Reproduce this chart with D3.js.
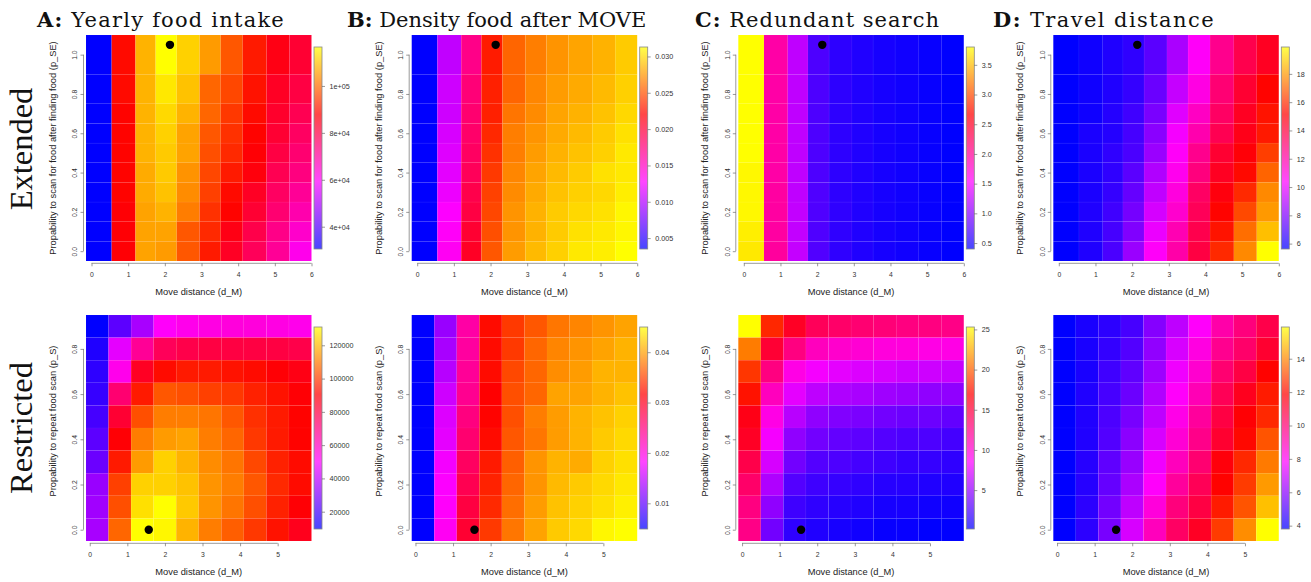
<!DOCTYPE html>
<html>
<head>
<meta charset="utf-8">
<script src="https://cdn.jsdelivr.net/npm/d3@7"></script>
<style>
  body { margin: 0; background: #fff; }
  svg { display: block; }
</style>
</head>
<body>
<div id="chartdiv"></div>
<script>
// ---- data ----

// move distance (d_M) at the centre of each column
var dmExt = [0.2, 0.9, 1.5, 2.0, 2.65, 3.25, 3.8, 4.45, 5.1, 5.7];
var dmRes = [0.2, 0.8, 1.4, 2.0, 2.6, 3.2, 3.8, 4.4, 5.0, 5.6];
// probability rows, listed from the top row down
var pSE = [1.0, 0.8, 0.7, 0.6, 0.5, 0.4, 0.3, 0.2, 0.1, 0.0];
var pS  = [0.9, 0.8, 0.7, 0.6, 0.5, 0.4, 0.3, 0.2, 0.1, 0.0];

// black dot (default parameter set)
var dotExt = [2.14, 1.05];
var dotRes = [1.57, 0.0];

var xTicksExt = [0, 1, 2, 3, 4, 5, 6];
var xTicksRes = [0, 1, 2, 3, 4, 5];
var yTicksExt = [0, 0.2, 0.4, 0.6, 0.8, 1.0];
var yTicksRes = [0, 0.2, 0.4, 0.6, 0.8];

// every inner array is one column (one d_M), values from the top row down
var intakeExt = [
  [30500, 30500, 30500, 30500, 30500, 30500, 30500, 30500, 30500, 30500],
  [89000, 89000, 88200, 88200, 88200, 88200, 88200, 87300, 87300, 87300],
  [108000, 108000, 108000, 108000, 108000, 107100, 107100, 106300, 106300, 106300],
  [116600, 114000, 112300, 111400, 110600, 110600, 109700, 108000, 106300, 105400],
  [111400, 109700, 108000, 106300, 106300, 104500, 103700, 102000, 97700, 97700],
  [105400, 99400, 99400, 97700, 96800, 95900, 95100, 93400, 92500, 90800],
  [97700, 95900, 94200, 93400, 92500, 90800, 89000, 88200, 85600, 83900],
  [90800, 89900, 89000, 88200, 87300, 86500, 83900, 82200, 79600, 77900],
  [85600, 83900, 83000, 82200, 80400, 78700, 77000, 75300, 72700, 71000],
  [82200, 80400, 78700, 77000, 75300, 73600, 71000, 68400, 65000, 61500]
];
var intakeRes = [
  [9600, 14500, 16900, 18100, 20500, 24200, 26600, 33900, 35100, 36300],
  [24200, 46000, 53300, 72700, 82400, 89700, 94600, 100700, 103100, 106700],
  [36300, 66700, 84900, 94600, 103100, 110400, 115200, 123700, 126100, 131000],
  [50900, 76400, 92200, 104300, 110400, 115200, 123700, 123700, 131000, 129800],
  [53300, 78800, 94600, 103100, 110400, 116400, 118900, 121300, 122500, 118900],
  [54500, 80000, 94600, 100700, 109100, 110400, 112800, 114000, 114000, 110400],
  [55700, 80000, 93400, 99400, 104300, 106700, 109100, 110400, 109100, 105500],
  [55700, 80000, 92200, 95800, 98200, 99400, 101900, 104300, 103100, 99400],
  [54500, 80000, 89700, 93400, 94600, 94600, 95800, 97000, 95800, 93400],
  [53300, 78800, 87300, 89700, 90900, 90900, 92200, 92200, 89700, 86100]
];
var densExt = [
  [0.0035, 0.0035, 0.0035, 0.0035, 0.0035, 0.0035, 0.0035, 0.0035, 0.0035, 0.0035],
  [0.0105, 0.0110, 0.0110, 0.0113, 0.0116, 0.0118, 0.0121, 0.0127, 0.0130, 0.0132],
  [0.0171, 0.0177, 0.0180, 0.0182, 0.0185, 0.0188, 0.0193, 0.0196, 0.0202, 0.0207],
  [0.0230, 0.0232, 0.0232, 0.0235, 0.0238, 0.0241, 0.0244, 0.0246, 0.0249, 0.0252],
  [0.0257, 0.0257, 0.0263, 0.0266, 0.0266, 0.0269, 0.0271, 0.0274, 0.0274, 0.0277],
  [0.0266, 0.0269, 0.0271, 0.0274, 0.0277, 0.0280, 0.0282, 0.0285, 0.0285, 0.0288],
  [0.0274, 0.0277, 0.0280, 0.0282, 0.0285, 0.0288, 0.0291, 0.0294, 0.0294, 0.0296],
  [0.0280, 0.0282, 0.0285, 0.0288, 0.0291, 0.0294, 0.0296, 0.0299, 0.0302, 0.0305],
  [0.0285, 0.0288, 0.0291, 0.0294, 0.0296, 0.0302, 0.0299, 0.0302, 0.0305, 0.0307],
  [0.0294, 0.0296, 0.0299, 0.0302, 0.0305, 0.0305, 0.0307, 0.0310, 0.0310, 0.0313]
];
var densRes = [
  [0.0049, 0.0049, 0.0049, 0.0049, 0.0049, 0.0049, 0.0049, 0.0049, 0.0049, 0.0049],
  [0.0129, 0.0137, 0.0145, 0.0157, 0.0165, 0.0169, 0.0177, 0.0181, 0.0185, 0.0189],
  [0.0230, 0.0233, 0.0237, 0.0241, 0.0250, 0.0258, 0.0266, 0.0274, 0.0282, 0.0290],
  [0.0322, 0.0322, 0.0322, 0.0316, 0.0318, 0.0322, 0.0330, 0.0334, 0.0338, 0.0346],
  [0.0346, 0.0346, 0.0354, 0.0358, 0.0358, 0.0362, 0.0366, 0.0370, 0.0374, 0.0378],
  [0.0362, 0.0370, 0.0370, 0.0370, 0.0382, 0.0378, 0.0394, 0.0394, 0.0398, 0.0402],
  [0.0378, 0.0386, 0.0390, 0.0402, 0.0398, 0.0398, 0.0410, 0.0414, 0.0418, 0.0422],
  [0.0386, 0.0394, 0.0398, 0.0402, 0.0410, 0.0410, 0.0406, 0.0422, 0.0426, 0.0430],
  [0.0394, 0.0402, 0.0410, 0.0410, 0.0418, 0.0422, 0.0426, 0.0430, 0.0434, 0.0446],
  [0.0402, 0.0410, 0.0410, 0.0418, 0.0426, 0.0430, 0.0434, 0.0438, 0.0442, 0.0450]
];
var redunExt = [
  [3.80, 3.80, 3.80, 3.80, 3.80, 3.77, 3.77, 3.77, 3.73, 3.70],
  [1.93, 1.93, 1.93, 1.93, 1.93, 1.93, 1.95, 1.95, 1.95, 1.97],
  [1.25, 1.25, 1.25, 1.25, 1.25, 1.25, 1.25, 1.26, 1.26, 1.27],
  [0.74, 0.74, 0.74, 0.74, 0.74, 0.74, 0.75, 0.75, 0.75, 0.76],
  [0.60, 0.60, 0.60, 0.60, 0.60, 0.60, 0.60, 0.61, 0.61, 0.61],
  [0.54, 0.54, 0.54, 0.54, 0.54, 0.54, 0.54, 0.54, 0.54, 0.54],
  [0.50, 0.50, 0.50, 0.50, 0.50, 0.50, 0.50, 0.50, 0.50, 0.50],
  [0.47, 0.47, 0.47, 0.47, 0.47, 0.47, 0.47, 0.47, 0.47, 0.47],
  [0.43, 0.43, 0.43, 0.43, 0.43, 0.43, 0.43, 0.43, 0.43, 0.43],
  [0.40, 0.40, 0.40, 0.40, 0.40, 0.40, 0.40, 0.40, 0.40, 0.40]
];
var redunRes = [
  [25.3, 21.0, 18.7, 17.5, 16.2, 15.7, 14.5, 13.5, 12.7, 12.5],
  [18.2, 15.2, 12.7, 10.7, 9.4, 8.2, 7.2, 5.9, 4.9, 3.9],
  [15.7, 12.7, 9.4, 7.7, 6.2, 4.9, 3.9, 2.9, 2.2, 1.7],
  [14.0, 10.7, 8.2, 6.4, 4.9, 3.9, 2.9, 2.2, 1.7, 1.2],
  [13.5, 10.2, 7.7, 5.9, 4.4, 3.4, 2.7, 1.9, 1.4, 0.9],
  [13.2, 10.0, 7.4, 5.7, 4.2, 3.2, 2.4, 1.7, 1.2, 0.7],
  [13.0, 9.7, 7.2, 5.4, 3.9, 2.9, 2.2, 1.4, 0.9, 0.4],
  [12.7, 9.7, 6.9, 5.2, 3.7, 2.7, 1.9, 1.4, 0.9, 0.4],
  [12.7, 9.4, 6.9, 4.9, 3.7, 2.7, 1.9, 1.2, 0.7, 0.16],
  [12.5, 9.4, 6.7, 4.9, 3.4, 2.4, 1.7, 1.2, 0.7, 0.16]
];
var travelExt = [
  [5.62, 5.62, 5.62, 5.62, 5.62, 5.62, 5.62, 5.62, 5.62, 5.62],
  [5.9, 5.9, 5.9, 6.1, 6.1, 6.1, 6.1, 6.2, 6.2, 6.2],
  [6.2, 6.2, 6.3, 6.3, 6.5, 6.5, 6.6, 6.8, 6.9, 7.0],
  [6.5, 6.6, 6.8, 6.9, 7.0, 7.3, 7.5, 7.8, 8.0, 8.5],
  [7.3, 7.6, 7.9, 8.2, 8.5, 8.9, 9.2, 9.6, 10.0, 10.5],
  [8.8, 9.3, 9.8, 10.2, 10.5, 10.7, 11.0, 11.3, 11.8, 12.0],
  [10.5, 10.9, 11.5, 11.9, 12.5, 12.8, 13.3, 13.5, 13.7, 13.9],
  [12.5, 13.0, 13.3, 13.6, 14.2, 14.5, 14.9, 15.2, 15.5, 15.9],
  [13.7, 14.2, 14.5, 14.7, 15.0, 15.3, 15.9, 16.5, 17.2, 17.7],
  [14.5, 15.2, 15.5, 15.6, 16.3, 17.0, 17.7, 18.0, 18.7, 19.9]
];
var travelRes = [
  [3.8, 3.8, 3.8, 3.8, 3.8, 3.8, 3.8, 3.8, 3.8, 3.8],
  [4.2, 4.2, 4.2, 4.3, 4.3, 4.3, 4.4, 4.4, 4.5, 4.5],
  [4.5, 4.6, 4.8, 4.9, 5.0, 5.1, 5.3, 5.4, 5.6, 5.7],
  [4.9, 5.1, 5.3, 5.5, 5.7, 6.0, 6.2, 6.5, 6.8, 7.2],
  [5.9, 6.1, 6.3, 6.6, 6.8, 7.2, 7.6, 7.9, 8.4, 8.9],
  [6.8, 7.2, 7.6, 7.9, 8.2, 8.5, 8.9, 9.4, 9.9, 10.3],
  [7.9, 8.3, 8.6, 9.0, 9.4, 9.7, 10.1, 10.5, 10.8, 11.3],
  [9.2, 9.6, 10.1, 10.5, 10.8, 11.1, 11.7, 11.9, 12.3, 12.8],
  [9.9, 10.2, 10.8, 11.4, 11.8, 12.0, 12.5, 12.8, 13.2, 14.1],
  [10.7, 11.1, 11.9, 12.3, 12.5, 13.2, 13.8, 14.3, 14.9, 15.9]
];

// colour bar tick labels
var barTicksIntakeExt = [40000, 60000, 80000, 100000];
var barTicksIntakeRes = [20000, 40000, 60000, 80000, 100000, 120000];
var barTicksDensExt = [0.005, 0.010, 0.015, 0.020, 0.025, 0.030];
var barTicksDensRes = [0.01, 0.02, 0.03, 0.04];
var barTicksRedunExt = [0.5, 1.0, 1.5, 2.0, 2.5, 3.0, 3.5];
var barTicksRedunRes = [5, 10, 15, 20, 25];
var barTicksTravelExt = [6, 8, 10, 12, 14, 16, 18];
var barTicksTravelRes = [4, 6, 8, 10, 12, 14];

var titleLetters = ["A:", "B:", "C:", "D:"];
var titleTexts = ["Yearly food intake", "Density food after MOVE", "Redundant search", "Travel distance"];

// ---- layout ----
var W = 225.5, H = 226;
var plotLeft = [86, 411.7, 738.3, 1053.3];
var plotTop = [35, 315];
var titleLeft = [37, 347, 695, 993];
var titleWidth = [248, 281, 245, 222];
var palette = ["#0000ff", "#ff00ff", "#ff0000", "#ffff00"];
var sansFont = "'Liberation Sans', Arial, sans-serif";
var serifFont = "'Liberation Serif', 'Times New Roman', serif";

// R prints 1e+05 rather than 1e+5
function sciFmt(v) {
  return d3.format(".0e")(v).replace(/e([+-])(\d)$/, "e$10$2");
}

var rows = [
  { name: "Extended", xs: dmExt, ys: pSE, xTicks: xTicksExt, yTicks: yTicksExt, dot: dotExt,
    ylab: "Propability to scan for food after finding food (p_SE)", ylabShift: 0 },
  { name: "Restricted", xs: dmRes, ys: pS, xTicks: xTicksRes, yTicks: yTicksRes, dot: dotRes,
    ylab: "Propability to repeat food scan (p_S)", ylabShift: -7 }
];

var panels = [
  { col: 0, row: 0, z: intakeExt, barTicks: barTicksIntakeExt, fmt: sciFmt },
  { col: 0, row: 1, z: intakeRes, barTicks: barTicksIntakeRes, fmt: d3.format("d") },
  { col: 1, row: 0, z: densExt, barTicks: barTicksDensExt, fmt: d3.format(".3f") },
  { col: 1, row: 1, z: densRes, barTicks: barTicksDensRes, fmt: d3.format(".2f") },
  { col: 2, row: 0, z: redunExt, barTicks: barTicksRedunExt, fmt: d3.format(".1f") },
  { col: 2, row: 1, z: redunRes, barTicks: barTicksRedunRes, fmt: d3.format("d") },
  { col: 3, row: 0, z: travelExt, barTicks: barTicksTravelExt, fmt: d3.format("d") },
  { col: 3, row: 1, z: travelRes, barTicks: barTicksTravelRes, fmt: d3.format("d") }
];

// cell limits like R image(): half way between neighbouring centres
function cellBounds(c) {
  var s = c.slice().sort(d3.ascending), e = [];
  e.push(s[0] - (s[1] - s[0]) / 2);
  for (var i = 1; i < s.length; i++) e.push((s[i - 1] + s[i]) / 2);
  e.push(s[s.length - 1] + (s[s.length - 1] - s[s.length - 2]) / 2);
  return c.map(function(v) { var i = s.indexOf(v); return [e[i], e[i + 1]]; });
}

var svg = d3.select("#chartdiv").append("svg")
  .attr("width", 1311)
  .attr("height", 582)
  .style("background", "#fff");

var defs = svg.append("defs");

// panel titles - wide serif, a touch of extra spacing to reach the original width
titleLetters.forEach(function(l, i) {
  var t = svg.append("text")
    .attr("x", titleLeft[i])
    .attr("y", 26.7)
    .attr("font-family", "'DejaVu Serif', serif")
    .attr("font-size", 21)
    .attr("fill", "#111");
  t.append("tspan").attr("font-weight", "bold").text(l);
  t.append("tspan").text(" " + titleTexts[i]);
  var w = t.node().getComputedTextLength();
  var n = (l + " " + titleTexts[i]).length;
  t.attr("letter-spacing", Math.max(0, (titleWidth[i] - w) / n));
});

// row labels on the far left
[[31.5, 149], [32, 428]].forEach(function(p, i) {
  svg.append("text")
    .attr("transform", "translate(" + p[0] + "," + p[1] + ") rotate(-90)")
    .attr("text-anchor", "middle")
    .attr("font-family", serifFont)
    .attr("font-size", 32.5)
    .attr("fill", "#111")
    .text(rows[i].name);
});

panels.forEach(function(p, pi) {
  var r = rows[p.row];
  var xb = cellBounds(r.xs), yb = cellBounds(r.ys);
  var x = d3.scaleLinear()
    .domain([d3.min(xb, d => d[0]), d3.max(xb, d => d[1])])
    .range([0, W]);
  var y = d3.scaleLinear()
    .domain([d3.min(yb, d => d[0]), d3.max(yb, d => d[1])])
    .range([H, 0]);

  var ext = d3.extent(d3.merge(p.z));
  var span = ext[1] - ext[0];
  var color = d3.scaleLinear()
    .domain([ext[0], ext[0] + span / 3, ext[0] + 2 * span / 3, ext[1]])
    .range(palette)
    .interpolate(d3.interpolateRgb);

  var g = svg.append("g")
    .attr("transform", "translate(" + plotLeft[p.col] + "," + plotTop[p.row] + ")");

  // flatten into cells
  var cells = [];
  p.z.forEach(function(colVals, ci) {
    colVals.forEach(function(v, ri) {
      cells.push({ x0: xb[ci][0], x1: xb[ci][1], y0: yb[ri][0], y1: yb[ri][1], v: v });
    });
  });

  g.selectAll(".cell")
    .data(cells)
    .enter().append("rect")
      .attr("class", "cell")
      .attr("x", d => x(d.x0))
      .attr("y", d => y(d.y1))
      .attr("width", d => x(d.x1) - x(d.x0))
      .attr("height", d => y(d.y0) - y(d.y1))
      .attr("fill", d => color(d.v))
      .attr("stroke", "#fff")
      .attr("stroke-opacity", 0.06)
      .attr("stroke-width", 0.5);

  g.append("circle")
    .attr("cx", x(r.dot[0]))
    .attr("cy", y(r.dot[1]))
    .attr("r", 4.2)
    .attr("fill", "#000");

  // x axis, R style: line only between first and last tick
  var xa = g.append("g").attr("transform", "translate(0," + (H + 2.3) + ")");
  xa.call(d3.axisBottom(x).tickValues(r.xTicks).tickSize(3).tickSizeOuter(0).tickFormat(d3.format("d")));
  xa.select(".domain").remove();
  xa.append("line")
    .attr("x1", x(r.xTicks[0])).attr("x2", x(r.xTicks[r.xTicks.length - 1]))
    .attr("stroke", "#555").attr("stroke-width", 0.6);
  xa.selectAll(".tick line").attr("stroke", "#555").attr("stroke-width", 0.6);
  xa.selectAll(".tick text")
    .attr("y", 14).attr("dy", 0)
    .attr("font-family", sansFont).attr("font-size", 6.8).attr("fill", "#333");

  g.append("text")
    .attr("x", W / 2)
    .attr("y", H + 33.6)
    .attr("text-anchor", "middle")
    .attr("font-family", sansFont)
    .attr("font-size", 9.3)
    .attr("fill", "#222")
    .text("Move distance (d_M)");

  // y axis with labels turned parallel to it
  var ya = g.append("g").attr("transform", "translate(-2.5,0)");
  ya.call(d3.axisLeft(y).tickValues(r.yTicks).tickSize(3).tickSizeOuter(0).tickFormat(d3.format(".1f")));
  ya.select(".domain").remove();
  ya.append("line")
    .attr("y1", y(r.yTicks[0])).attr("y2", y(r.yTicks[r.yTicks.length - 1]))
    .attr("stroke", "#555").attr("stroke-width", 0.6);
  ya.selectAll(".tick line").attr("stroke", "#555").attr("stroke-width", 0.6);
  ya.selectAll(".tick text")
    .attr("transform", "rotate(-90)")
    .attr("x", 0).attr("y", -6.2).attr("dy", 0)
    .attr("text-anchor", "middle")
    .attr("font-family", sansFont).attr("font-size", 6.8).attr("fill", "#333");

  g.append("text")
    .attr("transform", "translate(-30," + (H / 2 + r.ylabShift) + ") rotate(-90)")
    .attr("text-anchor", "middle")
    .attr("font-family", sansFont)
    .attr("font-size", 9.3)
    .attr("fill", "#222")
    .text(r.ylab);

  // colour bar
  var bx = W + 2.5, bw = 8, bTop = 12, bBot = H - 12;
  var gid = "grad" + pi;
  var grad = defs.append("linearGradient")
    .attr("id", gid)
    .attr("x1", 0).attr("y1", 1).attr("x2", 0).attr("y2", 0);
  palette.forEach(function(c, i) {
    grad.append("stop").attr("offset", i / (palette.length - 1)).attr("stop-color", c);
  });
  g.append("rect")
    .attr("x", bx).attr("y", bTop)
    .attr("width", bw).attr("height", bBot - bTop)
    .attr("fill", "url(#" + gid + ")")
    .attr("fill-opacity", 0.72)
    .attr("stroke", "#888")
    .attr("stroke-width", 0.8);

  var bar = d3.scaleLinear().domain(ext).range([bBot, bTop]);
  var ba = g.append("g").attr("transform", "translate(" + (bx + bw) + ",0)");
  ba.call(d3.axisRight(bar).tickValues(p.barTicks).tickSize(3).tickPadding(4.5).tickFormat(p.fmt));
  ba.select(".domain").remove();
  ba.selectAll(".tick line").attr("stroke", "#555").attr("stroke-width", 0.6);
  ba.selectAll(".tick text")
    .attr("font-family", sansFont).attr("font-size", 7.2).attr("fill", "#333");
});
</script>
</body>
</html>
